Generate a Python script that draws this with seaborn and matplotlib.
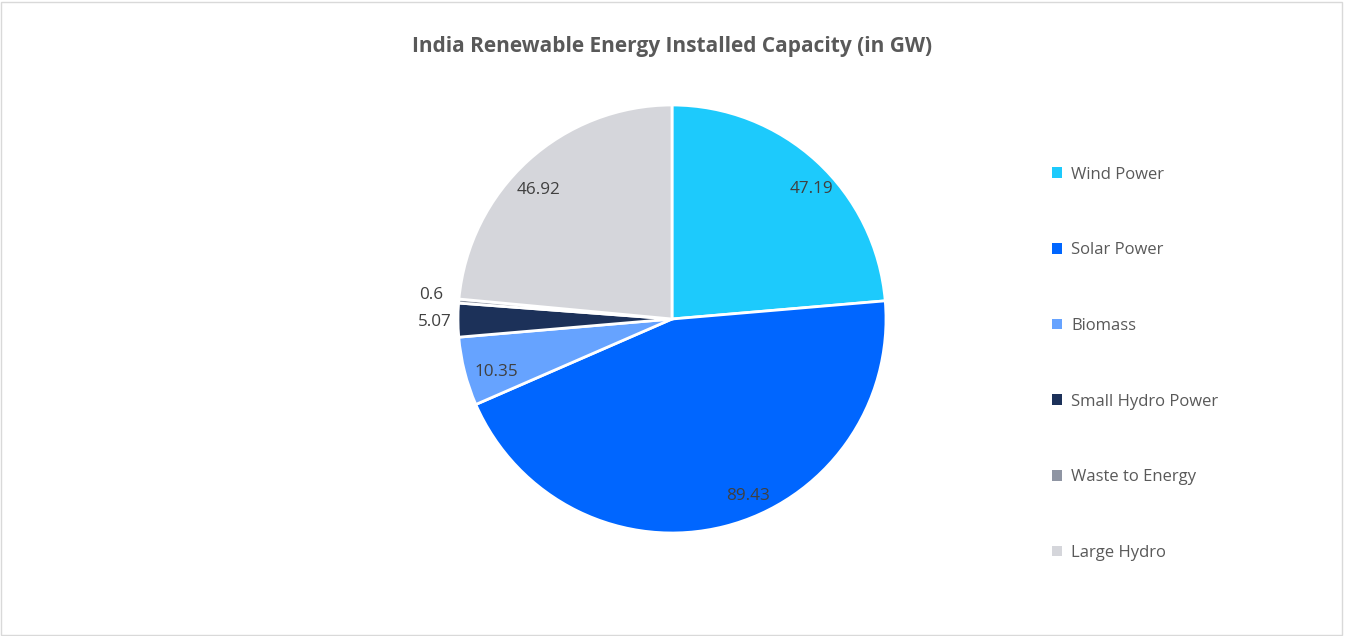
import matplotlib
matplotlib.use("Agg")
import numpy as np
import matplotlib.pyplot as plt
import seaborn as sns
from matplotlib.patches import Rectangle

# -----------------------------
# Data
# -----------------------------
sources = ["Wind Power", "Solar Power", "Biomass", "Small Hydro Power",
           "Waste to Energy", "Large Hydro"]
capacity_gw = [47.19, 89.43, 10.35, 5.07, 0.6, 46.92]
label_text = ["47.19", "89.43", "10.35", "5.07", "0.6", "46.92"]
colors = ["#1DCAFC", "#0066FF", "#66A3FF", "#1C3159", "#8F95A3", "#D5D6DB"]

sns.set_theme(style="white")
plt.rcParams["font.family"] = ["Open Sans", "DejaVu Sans"]

fig = plt.figure(figsize=(13.45, 6.36), dpi=100)
fig.patch.set_facecolor("white")

# light frame around the chart
fig.add_artist(Rectangle((0.001, 0.002), 0.997, 0.995, transform=fig.transFigure,
                         fill=False, edgecolor="#D9D9D9", linewidth=1))

# pie axes: centre (672, 319) px, radius 214 px
W, H = 1345, 636
cx, cy, r = 672, H - 319, 214
ax = fig.add_axes([(cx - r) / W, (cy - r) / H, 2 * r / W, 2 * r / H])

wedges, _ = ax.pie(capacity_gw, colors=colors, startangle=90, counterclock=False,
                   wedgeprops=dict(edgecolor="white", linewidth=2))
ax.set_xlim(-1, 1)
ax.set_ylim(-1, 1)
ax.set_aspect("equal")
ax.axis("off")

# data labels: inside for big slices, outside for tiny ones
# (distance in radii, small clockwise shift in degrees like Excel's best fit)
label_dist = [0.89, 0.90, 0.855, 1.107, 1.13, 0.865]
label_shift = [4.5, -9.0, -2.5, -0.5, 0.8, -3.7]
for w, txt, d, s in zip(wedges, label_text, label_dist, label_shift):
    ang = np.deg2rad((w.theta1 + w.theta2) / 2 - s)
    ax.text(d * np.cos(ang), d * np.sin(ang), txt, ha="center", va="center",
            fontsize=12.3, color="#404040", clip_on=False)

fig.suptitle("India Renewable Energy Installed Capacity (in GW)", y=0.944,
             fontsize=15, fontweight="bold", color="#595959")

handles = [Rectangle((0, 0), 1, 1, facecolor=c, edgecolor="none") for c in colors]
leg = fig.legend(handles, sources, loc="center left", bbox_to_anchor=(0.771, 0.428),
                 frameon=False, fontsize=12, handlelength=0.6, handleheight=0.6,
                 handletextpad=0.55, labelspacing=3.58)
for t in leg.get_texts():
    t.set_color("#595959")

fig.savefig("out.png", dpi=100, facecolor="white")
